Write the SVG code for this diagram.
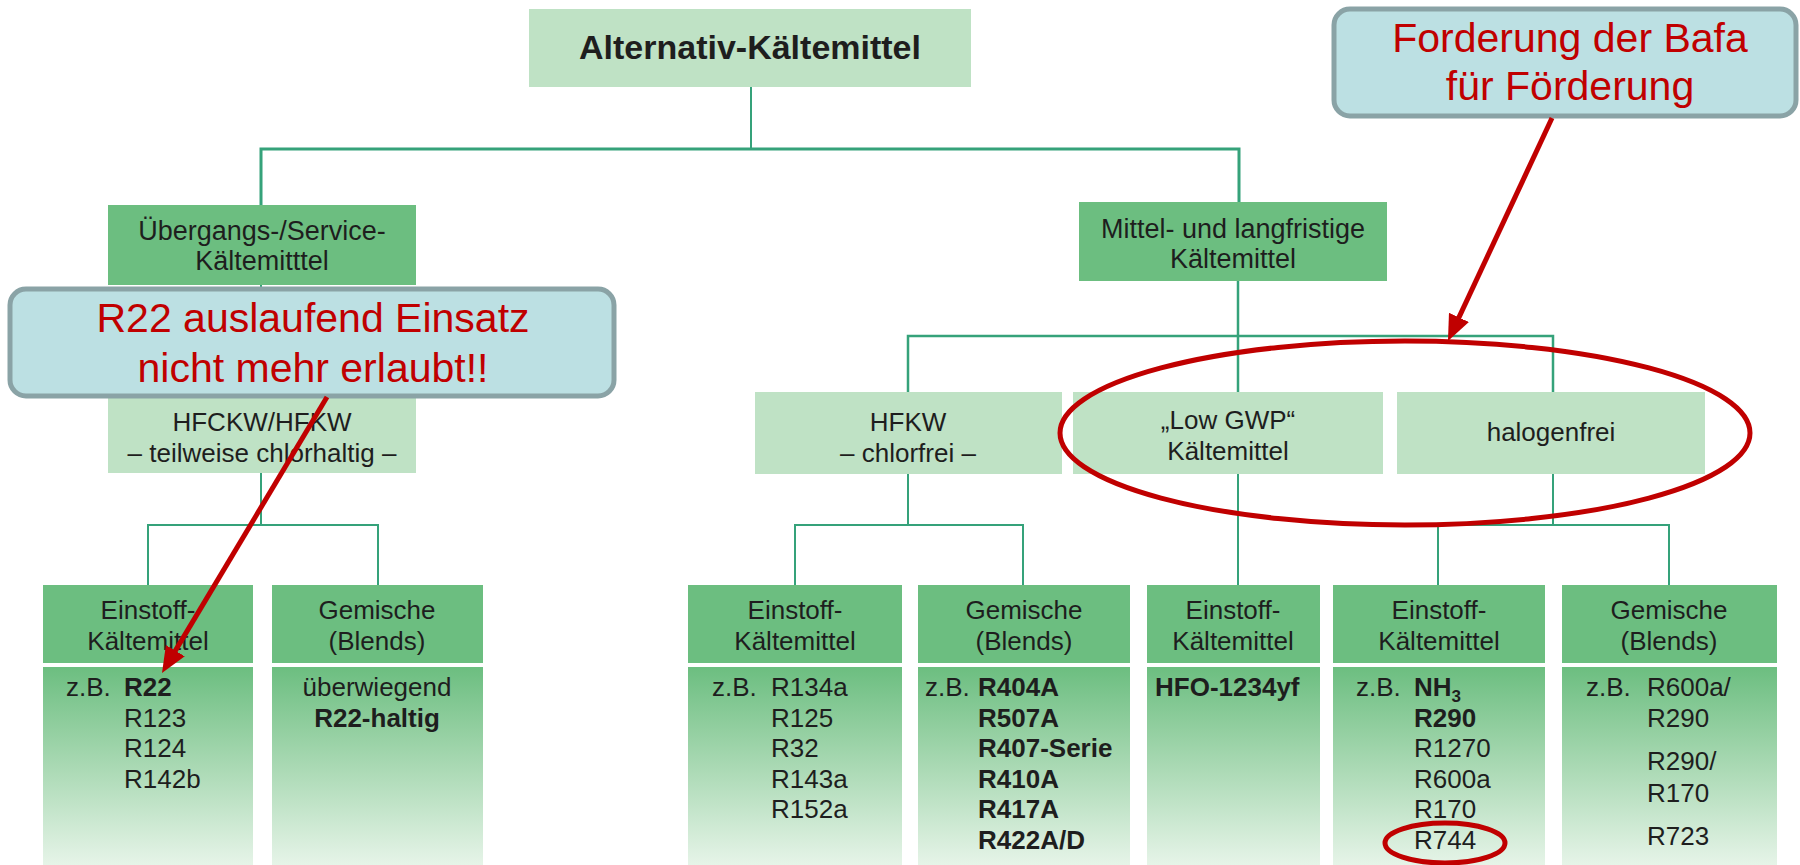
<svg xmlns="http://www.w3.org/2000/svg" width="1800" height="865" viewBox="0 0 1800 865">
<defs>
<linearGradient id="g" x1="0" y1="0" x2="0" y2="1">
<stop offset="0" stop-color="#6cbe80"/>
<stop offset="0.45" stop-color="#a3d6ae"/>
<stop offset="1" stop-color="#e6f4e8"/>
</linearGradient>
<marker id="ah" markerUnits="userSpaceOnUse" markerWidth="26" markerHeight="22" viewBox="0 0 26 22" refX="11" refY="11" orient="auto">
<path d="M0,0 L26,11 L0,22 z" fill="#c00000"/>
</marker>
<style>
.lt{fill:#bfe2c5}
.md{fill:#6cbe80}
.bd{fill:url(#g)}
.conn{stroke:#35a27a;stroke-width:2;fill:none}
.t{font-family:"Liberation Sans",Arial,sans-serif;fill:#1e1e1e;font-size:26px}
.c{text-anchor:middle}
.b{font-weight:bold}
.callout{fill:#bce0e3;stroke:#8aa3a6;stroke-width:5}
.ct{font-family:"Liberation Sans",Arial,sans-serif;font-size:41px;fill:#c00000;text-anchor:middle}
.red{stroke:#c00000;stroke-width:5;fill:none}
</style>
</defs>
<rect width="1800" height="865" fill="#ffffff"/>

<g id="connectors">
<path class="conn" d="M751,87 V149"/>
<path class="conn" style="stroke-width:3" d="M261,205 V149 H1239 V202"/>
<path class="conn" d="M261,285 V392"/>
<path class="conn" d="M261,473 V525 M148,585 V525 H378 V585"/>
<path class="conn" style="stroke-width:2.5" d="M1238,281 V392"/>
<path class="conn" style="stroke-width:2.5" d="M908,392 V336 H1553 V392"/>
<path class="conn" d="M908,474 V525 M795,585 V525 H1023 V585"/>
<path class="conn" d="M1238,474 V585"/>
<path class="conn" d="M1553,474 V525 M1438,585 V525 H1669 V585"/>
</g>

<g id="n-root">
<rect class="lt" x="529" y="9" width="442" height="78"/>
<text class="t c b" x="750" y="59" style="font-size:34px">Alternativ-Kältemittel</text>
</g>

<g id="n-uebergang">
<rect class="md" x="108" y="205" width="308" height="80"/>
<text class="t c" x="262" y="240" style="font-size:27px">Übergangs-/Service-</text>
<text class="t c" x="262" y="270" style="font-size:27px">Kältemitttel</text>
</g>

<g id="n-mittel">
<rect class="md" x="1079" y="202" width="308" height="79"/>
<text class="t c" x="1233" y="238" style="font-size:27px">Mittel- und langfristige</text>
<text class="t c" x="1233" y="268" style="font-size:27px">Kältemittel</text>
</g>

<g id="n-hfckw">
<rect class="lt" x="108" y="392" width="308" height="81"/>
<text class="t c" x="262" y="431">HFCKW/HFKW</text>
<text class="t c" x="262" y="462">– teilweise chlorhaltig –</text>
</g>

<g id="n-hfkw">
<rect class="lt" x="755" y="392" width="307" height="82"/>
<text class="t c" x="908" y="431">HFKW</text>
<text class="t c" x="908" y="462">– chlorfrei –</text>
</g>

<g id="n-lowgwp">
<rect class="lt" x="1073" y="392" width="310" height="82"/>
<text class="t c" x="1228" y="429">„Low GWP“</text>
<text class="t c" x="1228" y="460">Kältemittel</text>
</g>

<g id="n-halogenfrei">
<rect class="lt" x="1397" y="392" width="308" height="82"/>
<text class="t c" x="1551" y="441">halogenfrei</text>
</g>

<g id="n-b1">
<rect class="md" x="43" y="585" width="210" height="78"/>
<rect class="bd" x="43" y="667" width="210" height="198"/>
<text class="t c" x="148" y="619">Einstoff-</text>
<text class="t c" x="148" y="650">Kältemittel</text>
<text class="t" x="66" y="696">z.B.</text>
<text class="t b" x="124" y="696">R22</text>
<text class="t" x="124" y="727">R123</text>
<text class="t" x="124" y="757">R124</text>
<text class="t" x="124" y="788">R142b</text>
</g>

<g id="n-b2">
<rect class="md" x="272" y="585" width="211" height="78"/>
<rect class="bd" x="272" y="667" width="211" height="198"/>
<text class="t c" x="377" y="619">Gemische</text>
<text class="t c" x="377" y="650">(Blends)</text>
<text class="t c" x="377" y="696">überwiegend</text>
<text class="t c b" x="377" y="727">R22-haltig</text>
</g>

<g id="n-b3">
<rect class="md" x="688" y="585" width="214" height="78"/>
<rect class="bd" x="688" y="667" width="214" height="198"/>
<text class="t c" x="795" y="619">Einstoff-</text>
<text class="t c" x="795" y="650">Kältemittel</text>
<text class="t" x="712" y="696">z.B.</text>
<text class="t" x="771" y="696">R134a</text>
<text class="t" x="771" y="727">R125</text>
<text class="t" x="771" y="757">R32</text>
<text class="t" x="771" y="788">R143a</text>
<text class="t" x="771" y="818">R152a</text>
</g>

<g id="n-b4">
<rect class="md" x="918" y="585" width="212" height="78"/>
<rect class="bd" x="918" y="667" width="212" height="198"/>
<text class="t c" x="1024" y="619">Gemische</text>
<text class="t c" x="1024" y="650">(Blends)</text>
<text class="t" x="925" y="696">z.B.</text>
<text class="t b" x="978" y="696">R404A</text>
<text class="t b" x="978" y="727">R507A</text>
<text class="t b" x="978" y="757">R407-Serie</text>
<text class="t b" x="978" y="788">R410A</text>
<text class="t b" x="978" y="818">R417A</text>
<text class="t b" x="978" y="849">R422A/D</text>
</g>

<g id="n-b5">
<rect class="md" x="1147" y="585" width="173" height="78"/>
<rect class="bd" x="1147" y="667" width="173" height="198"/>
<text class="t c" x="1233" y="619">Einstoff-</text>
<text class="t c" x="1233" y="650">Kältemittel</text>
<text class="t b" x="1155" y="696">HFO-1234yf</text>
</g>

<g id="n-b6">
<rect class="md" x="1333" y="585" width="212" height="78"/>
<rect class="bd" x="1333" y="667" width="212" height="198"/>
<text class="t c" x="1439" y="619">Einstoff-</text>
<text class="t c" x="1439" y="650">Kältemittel</text>
<text class="t" x="1356" y="696">z.B.</text>
<text class="t b" x="1414" y="696">NH<tspan style="font-size:17px" dy="6">3</tspan></text>
<text class="t b" x="1414" y="727">R290</text>
<text class="t" x="1414" y="757">R1270</text>
<text class="t" x="1414" y="788">R600a</text>
<text class="t" x="1414" y="818">R170</text>
<text class="t" x="1414" y="849">R744</text>
</g>

<g id="n-b7">
<rect class="md" x="1562" y="585" width="215" height="78"/>
<rect class="bd" x="1562" y="667" width="215" height="198"/>
<text class="t c" x="1669" y="619">Gemische</text>
<text class="t c" x="1669" y="650">(Blends)</text>
<text class="t" x="1586" y="696">z.B.</text>
<text class="t" x="1647" y="696">R600a/</text>
<text class="t" x="1647" y="727">R290</text>
<text class="t" x="1647" y="770">R290/</text>
<text class="t" x="1647" y="802">R170</text>
<text class="t" x="1647" y="845">R723</text>
</g>

<g id="callout-r22">
<rect class="callout" x="10" y="289" width="604" height="107" rx="16"/>
<text class="ct" x="313" y="332">R22 auslaufend Einsatz</text>
<text class="ct" x="313" y="382">nicht mehr erlaubt!!</text>
</g>

<g id="callout-bafa">
<rect class="callout" x="1334" y="9" width="462" height="107" rx="16"/>
<text class="ct" x="1570" y="52">Forderung der Bafa</text>
<text class="ct" x="1570" y="100">für Förderung</text>
</g>

<g id="annotations">
<line class="red" x1="327" y1="397" x2="169.7" y2="660.1" marker-end="url(#ah)"/>
<line class="red" x1="1552" y1="118" x2="1454.3" y2="327.4" marker-end="url(#ah)"/>
<ellipse class="red" cx="1405" cy="433" rx="345" ry="92"/>
<ellipse class="red" cx="1445" cy="843" rx="60" ry="20"/>
</g>
</svg>
